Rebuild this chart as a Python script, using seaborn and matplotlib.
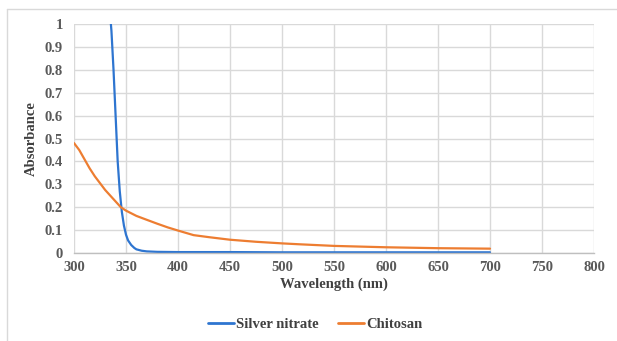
import numpy as np
import pandas as pd
import seaborn as sns
import matplotlib
matplotlib.use("Agg")
import matplotlib.pyplot as plt
from matplotlib.lines import Line2D

wl_silver = [334, 336, 338, 340, 342, 344, 346, 348, 350, 352, 355, 358, 360, 365, 370, 380, 400, 450, 500, 550, 600, 650, 700]
abs_silver = [1.08, 0.97, 0.80, 0.60, 0.40, 0.27, 0.18, 0.12, 0.08, 0.055, 0.035, 0.022, 0.016, 0.010, 0.007, 0.005, 0.004, 0.004, 0.003, 0.003, 0.003, 0.003, 0.003]

wl_chit = [300, 305, 310, 315, 320, 325, 330, 335, 340, 345, 350, 360, 367, 380, 390, 400, 415, 430, 450, 475, 500, 517, 550, 600, 650, 700]
abs_chit = [0.48, 0.45, 0.41, 0.37, 0.335, 0.305, 0.275, 0.25, 0.225, 0.20, 0.185, 0.162, 0.15, 0.128, 0.112, 0.098, 0.078, 0.069, 0.058, 0.049, 0.042, 0.038, 0.031, 0.025, 0.021, 0.019]

series_names = ["Silver nitrate", "Chitosan"]
colors = ["#2E75D0", "#ED7D31"]
x_ticks = [300, 350, 400, 450, 500, 550, 600, 650, 700, 750, 800]
y_ticks = [0, 0.1, 0.2, 0.3, 0.4, 0.5, 0.6, 0.7, 0.8, 0.9, 1]
y_labels = ["0", "0.1", "0.2", "0.3", "0.4", "0.5", "0.6", "0.7", "0.8", "0.9", "1"]

df = pd.concat([
    pd.DataFrame({"Wavelength": wl_silver, "Absorbance": abs_silver, "Series": series_names[0]}),
    pd.DataFrame({"Wavelength": wl_chit, "Absorbance": abs_chit, "Series": series_names[1]}),
])

sns.set_style("white")
plt.rcParams['font.family'] = ['Liberation Serif', 'DejaVu Serif']

fig = plt.figure(figsize=(6.17, 3.41), dpi=100)
ax = fig.add_axes([74/617, 1 - 253/341, (594-74)/617, (253-24)/341])

sns.lineplot(data=df, x="Wavelength", y="Absorbance", hue="Series",
             palette=dict(zip(series_names, colors)), ax=ax, linewidth=1.6,
             legend=False, estimator=None, sort=True)

ax.set_xlim(300, 800)
ax.set_ylim(0, 1)
ax.set_xticks(x_ticks)
ax.set_yticks(y_ticks)
ax.set_xticklabels([str(t) for t in x_ticks], fontsize=10.5, fontweight='bold', color='#595959')
ax.set_yticklabels(y_labels, fontsize=10.5, fontweight='bold', color='#595959')
ax.grid(True, color='#D9D9D9', linewidth=1.0)
ax.set_axisbelow(True)
for s in ['top', 'right', 'left']:
    ax.spines[s].set_visible(False)
ax.spines['bottom'].set_color('#BFBFBF')
ax.spines['bottom'].set_linewidth(1.0)
ax.tick_params(axis='x', which='both', length=4, color='#BFBFBF', width=1, pad=2)
ax.tick_params(axis='y', length=0, pad=8)

ax.set_xlabel("Wavelength (nm)", fontsize=10.5, fontweight='bold', color='#404040', labelpad=2)
ax.set_ylabel("Absorbance", fontsize=10.5, fontweight='bold', color='#404040', labelpad=5)

handles = [Line2D([0], [0], color=c, lw=2) for c in colors]
fig.legend(handles, series_names, loc='center', bbox_to_anchor=(315/617, 1 - 324/341),
           ncol=2, frameon=False, handlelength=1.8, handletextpad=0.15, columnspacing=1.3,
           prop={'family': 'Liberation Serif', 'weight': 'bold', 'size': 10.5})
for t in fig.legends[0].get_texts():
    t.set_color('#404040')

# outer chart frame (partial)
fig.add_artist(Line2D([7/617, 7/617], [0, 1 - 9/341], transform=fig.transFigure, color='#D9D9D9', lw=1))
fig.add_artist(Line2D([7/617, 1], [1 - 9/341, 1 - 9/341], transform=fig.transFigure, color='#D9D9D9', lw=1))

fig.savefig("out.png", dpi=100)
